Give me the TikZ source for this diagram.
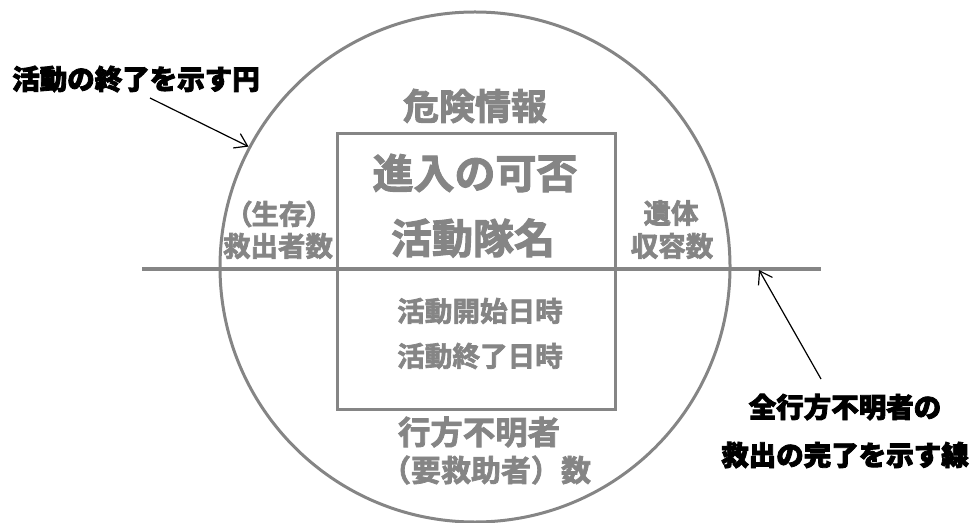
\documentclass[tikz,border=0pt]{standalone}
\usepackage{fontspec}
\setmainfont{Noto Sans CJK JP}[UprightFont={* Bold},FakeBold=2.5]
\newfontfamily\jpblack{Noto Sans CJK JP}[UprightFont={* Black},FakeBold=3]
\newfontfamily\jpnarrow{Noto Sans CJK JP}[UprightFont={* Bold},FakeBold=2.5,RawFeature=+palt]
\usetikzlibrary{positioning,arrows.meta}
\definecolor{linegray}{HTML}{858585}
\tikzset{every picture/.style={>={Straight Barb[length=6pt,width=8pt]}}}
\tikzset{gray lines/.style={draw=linegray,line width=1.5pt}}
\tikzset{gray text/.style={text=linegray,inner sep=0pt,align=center}}
\tikzset{note text/.style={font=\jpblack\fontsize{13.75}{24}\selectfont,inner sep=0pt,align=center}}
\tikzset{pointer/.style={->,line width=0.6pt}}

\begin{document}
\begin{tikzpicture}[x=0.5pt,y=-0.5pt]
      \useasboundingbox (0,0) rectangle (972,523);
      \node[gray lines,circle,minimum size=255pt,inner sep=0pt] (ring) at (475,267) {};
      \node[gray lines,minimum width=139pt,minimum height=137.5pt,inner sep=0pt] (infobox) at (476,271.5) {};
      \coordinate (lineL) at (142,269);
      \coordinate (lineR) at (821,269);
      \draw[gray lines,line width=2pt] (lineL) -- (lineR);
      \node[gray text,font=\fontsize{18}{20}\selectfont] (danger) at (475,106) {危険情報};
      \node[gray text,font=\fontsize{20.5}{22}\selectfont] (entry) at (475,173) {進入の可否};
      \node[gray text,font=\fontsize{20.5}{22}\selectfont] (team) at (473,238) {活動隊名};
      \node[gray text,font=\fontsize{13.8}{15}\selectfont] (start) at (480,311) {活動開始日時};
      \node[gray text,font=\fontsize{13.8}{15}\selectfont] (finish) at (480,356) {活動終了日時};
      \node[gray text,font=\fontsize{16.2}{18}\selectfont] (missing) at (479,432) {行方不明者};
      \node[gray text,font=\fontsize{15}{17}\selectfont] (rescuee) at (486,470) {（要救助者）数};
      \node[gray text,font=\jpnarrow\fontsize{13.75}{15}\selectfont] (alive) at (279,214) {（生存）};
      \node[gray text,font=\fontsize{13.75}{15}\selectfont] (rescued) at (278,246) {救出者数};
      \node[gray text,font=\fontsize{13.75}{15}\selectfont] (bodies) at (671,213) {遺体};
      \node[gray text,font=\fontsize{13.75}{15}\selectfont] (housed) at (672,246) {収容数};
      \node[note text] (ringnote) at (136,79) {活動の終了を示す円};
      \node[note text] (linenote) at (845,431) {全行方不明者の\\救出の完了を示す線};
      \coordinate (ringtail) at (150,98);
      \coordinate (linetail) at (821,379);
      \coordinate (linetip) at (759,270);
      \draw[pointer] (ringtail) -- (ring.152);
      \draw[pointer] (linetail) -- (linetip);
    \end{tikzpicture}
\end{document}
